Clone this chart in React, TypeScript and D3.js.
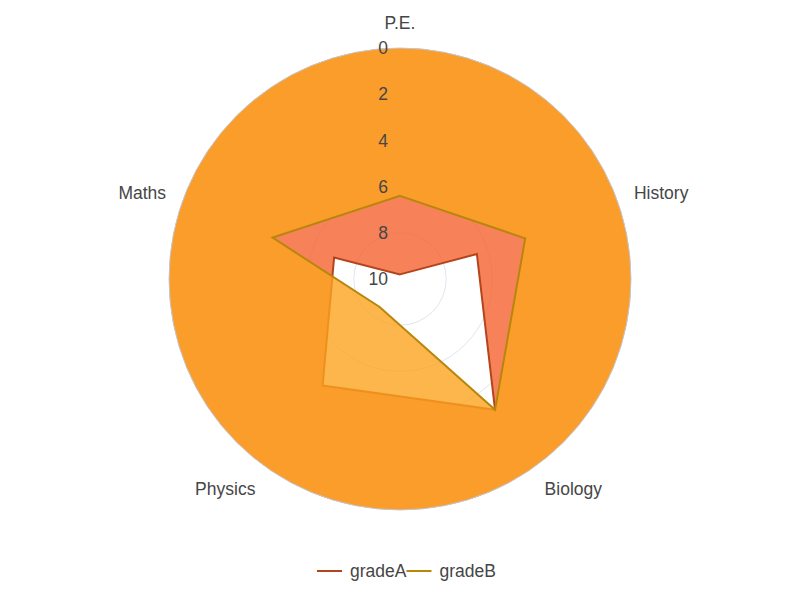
import React, { useRef, useEffect } from "react";
import * as d3 from "d3";

const indicators = ["P.E.", "History", "Biology", "Physics", "Maths"];
const gradeA = [9.8, 6.5, 3, 4.3, 7];
const gradeB = [6.4, 4.3, 3, 8.5, 4.2];
const ticks = [0, 2, 4, 6, 8, 10];
const seriesNames = ["gradeA", "gradeB"];
const seriesColors = ["#b4441c", "#b8860b"];
const areaColors = ["#f56331", "#fba41e"];

export default function App() {
  const svgRef = useRef<SVGSVGElement>(null);

  useEffect(() => {
    if (!svgRef.current) return;
    const svg = d3.select(svgRef.current);
    svg.selectAll("*").remove();

    const width = 800;
    const height = 600;
    const cx = 400;
    const cy = 279;
    const R = 231;
    const font = "'Liberation Sans', Arial, sans-serif";
    const fontSize = "17.5px";

    svg.attr("width", width).attr("height", height);

    // inverse radial axis: 0 at the rim, 10 in the middle
    const rScale = d3.scaleLinear().domain([0, 10]).range([R, 0]);
    const angle = d3.scaleLinear().domain([0, indicators.length]).range([0, 2 * Math.PI]);

    const pt = (i: number, v: number): [number, number] => {
      const a = angle(i);
      const r = rScale(v);
      return [cx + r * Math.sin(a), cy - r * Math.cos(a)];
    };

    const polyPath = (vals: number[]) =>
      d3.line()(vals.map((v, i) => pt(i, v)))! + "Z";

    const circlePath = (r: number) =>
      `M${cx - r},${cy}A${r},${r} 0 1,0 ${cx + r},${cy}A${r},${r} 0 1,0 ${cx - r},${cy}Z`;

    const g = svg.append("g");

    // grid circles (under the series)
    ticks.slice(1, -1).forEach((t) => {
      g.append("circle")
        .attr("cx", cx)
        .attr("cy", cy)
        .attr("r", rScale(t))
        .attr("fill", "none")
        .attr("stroke", "#dfe5ee")
        .attr("stroke-width", 1);
    });

    // each series: area from its polygon out to the rim (axis is inverted), then its line
    [gradeA, gradeB].forEach((vals, k) => {
      g.append("path")
        .attr("d", circlePath(R) + polyPath(vals))
        .attr("fill-rule", "evenodd")
        .attr("fill", areaColors[k])
        .attr("fill-opacity", 0.8);
      g.append("path")
        .attr("d", polyPath(vals))
        .attr("fill", "none")
        .attr("stroke", seriesColors[k])
        .attr("stroke-width", 2)
        .attr("stroke-linejoin", "miter");
    });

    // outer rim
    g.append("circle")
      .attr("cx", cx)
      .attr("cy", cy)
      .attr("r", R)
      .attr("fill", "none")
      .attr("stroke", "#c3c9d4")
      .attr("stroke-width", 1);

    // tick labels along the first axis
    ticks.forEach((t) => {
      g.append("text")
        .attr("x", cx - 12)
        .attr("y", cy - rScale(t))
        .attr("dy", "0.35em")
        .attr("text-anchor", "end")
        .style("font-family", font)
        .style("font-size", fontSize)
        .style("fill", "#464646")
        .text(t);
    });

    // indicator names
    const labelR = R + 15;
    indicators.forEach((name, i) => {
      const a = angle(i);
      const sx = Math.sin(a);
      const cyDir = -Math.cos(a);
      const x = cx + labelR * sx;
      const y = cy + labelR * cyDir;
      const anchor = Math.abs(sx) < 0.01 ? "middle" : sx > 0 ? "start" : "end";
      const dy = cyDir < 0 ? "-0.25em" : "0.95em";
      g.append("text")
        .attr("x", x)
        .attr("y", y)
        .attr("dy", dy)
        .attr("text-anchor", anchor)
        .style("font-family", font)
        .style("font-size", fontSize)
        .style("fill", "#464646")
        .text(name);
    });

    // legend
    const legend = svg.append("g").attr("transform", "translate(317, 571)");
    let x0 = 0;
    seriesNames.forEach((name, i) => {
      const item = legend.append("g").attr("transform", `translate(${x0}, 0)`);
      item.append("line")
        .attr("x1", 0)
        .attr("x2", 25)
        .attr("y1", 0)
        .attr("y2", 0)
        .attr("stroke", seriesColors[i])
        .attr("stroke-width", 2);
      const txt = item.append("text")
        .attr("x", 33)
        .attr("y", 0)
        .attr("dy", "0.35em")
        .style("font-family", font)
        .style("font-size", fontSize)
        .style("fill", "#464646")
        .text(name);
      const w = (txt.node() as SVGTextElement).getComputedTextLength();
      x0 += 33 + w;
    });
  }, []);

  return (
    <svg
      ref={svgRef}
      style={{ display: "block", position: "absolute", left: 0, top: 0 }}
    />
  );
}
